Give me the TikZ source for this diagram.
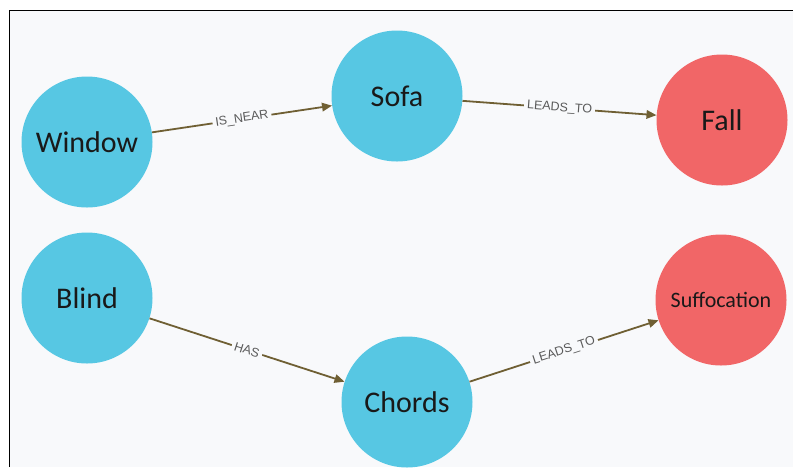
\documentclass[tikz,border=0pt]{standalone}
\usepackage{fontspec}
\setmainfont{Carlito}
\newfontfamily\edgefont{Liberation Sans}
\usetikzlibrary{arrows.meta}
\definecolor{nblue}{HTML}{57C7E3}
\definecolor{nred}{HTML}{F16667}
\definecolor{bgc}{HTML}{F8F9FB}
\definecolor{edgec}{HTML}{6F5F33}
\definecolor{lblc}{HTML}{5A5A5A}
\tikzset{
  gnode/.style={circle, minimum size=131pt, inner sep=0pt, text=black!90, font=\fontsize{30}{32}\selectfont},
  bnode/.style={gnode, fill=nblue},
  rnode/.style={gnode, fill=nred},
  rel/.style={draw=edgec, line width=1.8pt, -{Triangle[length=10pt,width=8.5pt]}},
  rlabel/.style={sloped, midway, fill=bgc, inner sep=3pt, text=lblc, font=\edgefont\fontsize{12.5}{14}\selectfont}
}
\begin{document}
\begin{tikzpicture}[x=1pt,y=-1pt]
\useasboundingbox (0,0) rectangle (793,467);
\fill[white] (0,0) rectangle (793,467);
\fill[bgc] (9.5,10.5) rectangle (793,467);
\draw[black, line width=1.4pt] (9.5,467) -- (9.5,10.5) -- (793,10.5);
\node[bnode] (window) at (87,142) {Window};
\node[bnode] (sofa) at (397,96) {Sofa};
\node[rnode] (fall) at (722,120) {Fall};
\node[bnode] (blind) at (87,298) {Blind};
\node[bnode] (chords) at (407,402) {Chords};
\node[rnode, font=\fontsize{22}{24}\selectfont] (suff) at (721,300) {Suffocation};
\draw[rel] (window) -- node[rlabel] {IS\_NEAR} (sofa);
\draw[rel] (sofa) -- node[rlabel] {LEADS\_TO} (fall);
\draw[rel] (blind) -- node[rlabel] {HAS} (chords);
\draw[rel] (chords) -- node[rlabel] {LEADS\_TO} (suff);
\end{tikzpicture}
\end{document}
